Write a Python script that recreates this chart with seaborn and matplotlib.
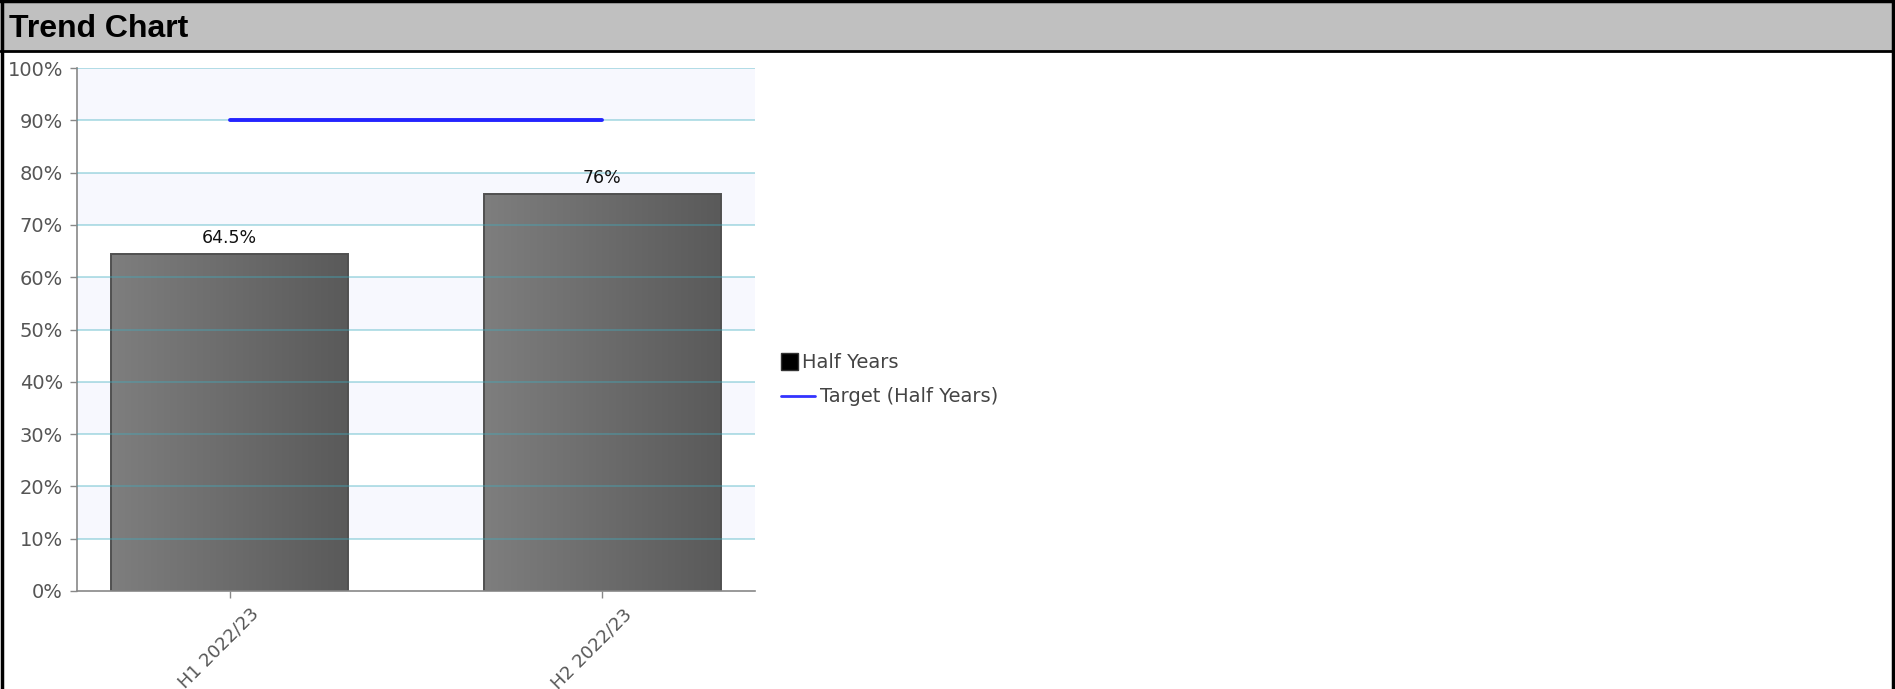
import numpy as np
import pandas as pd
import matplotlib
matplotlib.use("Agg")
import matplotlib.pyplot as plt
import matplotlib.transforms as mtransforms
from matplotlib.lines import Line2D
from matplotlib.patches import Rectangle
from matplotlib.legend_handler import HandlerBase
import seaborn as sns

# ---- data ----
categories = ["H1 2022/23", "H2 2022/23"]
values = [64.5, 76.0]
targets = [90.0, 90.0]
y_ticks = [0, 10, 20, 30, 40, 50, 60, 70, 80, 90, 100]
title_text = "Trend Chart"
legend_labels = ["Half Years", "Target (Half Years)"]

sns.set_theme(style="white")
plt.rcParams["font.family"] = ["DejaVu Sans"]

W, H = 1895, 689
fig = plt.figure(figsize=(W / 100, H / 100), dpi=100)
fig.patch.set_facecolor("white")

# ---- title bar ----
bar_h = 51 / H
tax = fig.add_axes([0, 1 - bar_h, 1, bar_h])
tax.set_facecolor("#c0c0c0")
tax.set_xticks([]); tax.set_yticks([])
for s in tax.spines.values():
    s.set_visible(False)
tax.text(9 / W, 0.43, title_text, transform=tax.transAxes, ha="left", va="center",
         fontsize=23, fontweight="bold", family=["Liberation Sans", "DejaVu Sans"], color="black")

# borders
fig.add_artist(Line2D([0, 1], [1 - bar_h, 1 - bar_h], transform=fig.transFigure, color="black", lw=2))
fig.add_artist(Line2D([0.001, 0.001], [0, 1], transform=fig.transFigure, color="black", lw=2.5))
fig.add_artist(Line2D([0.999, 0.999], [0, 1], transform=fig.transFigure, color="black", lw=2.5))
fig.add_artist(Line2D([0, 1], [0.999, 0.999], transform=fig.transFigure, color="black", lw=2.5))

# ---- main axes ----
ax = fig.add_axes([77 / W, 1 - 591 / H, (755 - 77) / W, (591 - 68) / H])
ax.set_facecolor("white")

df = pd.DataFrame({"cat": categories, "val": values})
sns.barplot(data=df, x="cat", y="val", ax=ax, color="#6e6e6e", width=0.635,
            edgecolor="#505050", linewidth=1.4, zorder=2)
bars = list(ax.containers[0])

# alternating background bands
for i in range(len(y_ticks) - 1):
    if (len(y_ticks) - 2 - i) % 2 == 0:
        ax.axhspan(y_ticks[i], y_ticks[i + 1], color="#f7f8fe", zorder=0, lw=0)

# gradient fill for bars
grad = np.linspace(0, 1, 256).reshape(1, -1)
cmap = matplotlib.colors.LinearSegmentedColormap.from_list("g", ["#7e7e7e", "#5a5a5a"])
for p in bars:
    x0, y0 = p.get_x(), p.get_y()
    w, h = p.get_width(), p.get_height()
    im = ax.imshow(grad, cmap=cmap, extent=[x0, x0 + w, y0, y0 + h], aspect="auto",
                   zorder=2.1, interpolation="bicubic")
    im.set_clip_path(p)
    p.set_facecolor("none")
    p.set_zorder(2.2)

# gridlines on top (semi-transparent)
for yt in y_ticks[1:]:
    ax.axhline(yt, color=(0.25, 0.68, 0.75), alpha=0.38, lw=1.4, zorder=3)

# target line
sns.lineplot(x=np.arange(len(categories)), y=targets, ax=ax, color="#2424ff", lw=2.8, zorder=4)

ax.set_xlim(-0.41, 1.41)
ax.set_ylim(0, 100)
ax.set_yticks(y_ticks)
ax.set_yticklabels([f"{t}%" for t in y_ticks])
ax.set_xticks(range(len(categories)))
ax.set_xticklabels(categories)
ax.set_xlabel(""); ax.set_ylabel("")

ax.tick_params(axis="y", which="both", left=True, length=5, width=1, color="#888888",
               labelsize=14, labelcolor="#555555", pad=5)
ax.tick_params(axis="x", which="both", bottom=True, length=5, width=1, color="#888888",
               labelsize=13, labelcolor="#555555", pad=5)
offset = mtransforms.ScaledTranslation(0.20, 0, fig.dpi_scale_trans)
for lbl in ax.get_xticklabels():
    lbl.set_rotation(45)
    lbl.set_ha("right")
    lbl.set_va("top")
    lbl.set_rotation_mode("anchor")
    lbl.set_transform(lbl.get_transform() + offset)

for s in ["top", "right"]:
    ax.spines[s].set_visible(False)
for s in ["left", "bottom"]:
    ax.spines[s].set_color("#888888")
    ax.spines[s].set_linewidth(1.2)
ax.grid(False)

# bar labels
ax.bar_label(ax.containers[0], labels=[f"{v:g}%" for v in values], padding=5,
             fontsize=12.5, color="#111111")


# ---- legend ----
class SquareHandler(HandlerBase):
    def create_artists(self, legend, orig_handle, xdescent, ydescent, width, height,
                       fontsize, trans):
        s = width
        r = Rectangle((-xdescent, -ydescent + (height - s) / 2), s, s,
                      facecolor="black", edgecolor="#333333", lw=1, transform=trans)
        return [r]


class SquareKey:
    pass


leg_fs = 14
l1 = fig.legend([SquareKey()], [legend_labels[0]], handler_map={SquareKey: SquareHandler()},
                loc="center left", bbox_to_anchor=(781 / W, 1 - 363 / H),
                frameon=False, fontsize=leg_fs, labelcolor="#444444", handlelength=0.85,
                handletextpad=0.25, borderpad=0, borderaxespad=0)
l2 = fig.legend([Line2D([], [], color="#3333ff", lw=2)], [legend_labels[1]],
                loc="center left", bbox_to_anchor=(781 / W, 1 - 397 / H),
                frameon=False, fontsize=leg_fs, labelcolor="#444444", handlelength=1.75,
                handletextpad=0.25, borderpad=0, borderaxespad=0)

fig.savefig("out.png", dpi=100)
